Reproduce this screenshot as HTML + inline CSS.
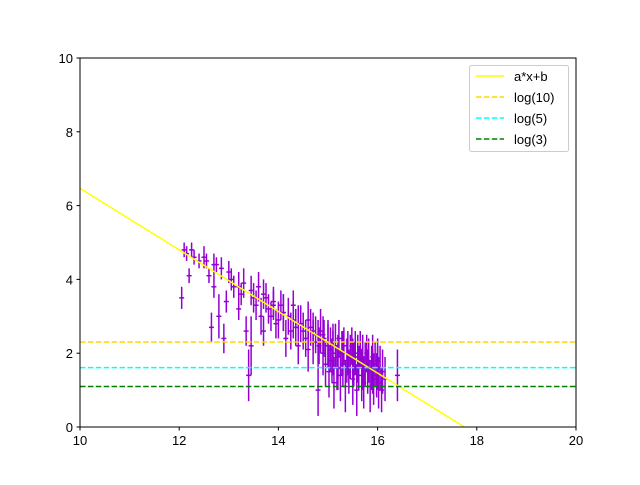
<!DOCTYPE html>
<html><head><meta charset="utf-8"><style>
body{margin:0;background:#fff}
svg text{font-family:"Liberation Sans",sans-serif;font-size:13px;fill:#000}
</style></head><body>
<svg id="chart" width="640" height="480" xmlns="http://www.w3.org/2000/svg">
<rect width="640" height="480" fill="#fff"/>
<g id="pts"></g>
<g id="lines"></g>
<rect x="80" y="58" width="496" height="369" fill="none" stroke="#000" stroke-width="1"/>
<g id="axes"></g>
<g>
<rect x="469.5" y="65.5" width="99" height="86" fill="#fff" fill-opacity="0.8" stroke="#ccc" rx="2"/>
<line x1="476" y1="76" x2="504" y2="76" stroke="#ffff00" stroke-width="1.5"/><text x="514" y="81">a*x+b</text>
<line x1="476" y1="97" x2="504" y2="97" stroke="#ffd700" stroke-width="1.5" stroke-dasharray="5.5,2.4"/><text x="514" y="102">log(10)</text>
<line x1="476" y1="118" x2="504" y2="118" stroke="#00ffff" stroke-width="1.5" stroke-dasharray="5.5,2.4"/><text x="514" y="123">log(5)</text>
<line x1="476" y1="139" x2="504" y2="139" stroke="#008000" stroke-width="1.5" stroke-dasharray="5.5,2.4"/><text x="514" y="144">log(3)</text>
</g>
</svg>
<script>
const xTicks=[10,12,14,16,18,20];
const yTicks=[0,2,4,6,8,10];
const slopeA=-0.835, interceptB=14.82;
const hLevels=[2.303,1.609,1.099];
const hColors=['#ffd700','#00ffff','#008000'];
// observations: x, y, yerr
const obsX=[12.05,12.1,12.15,12.2,12.25,12.3,12.4,12.5,12.55,12.6,12.65,12.7,12.75,12.8,12.85,12.9,12.95,13.0,13.05,13.1,13.2,13.25,13.3,13.35,13.4,13.45,13.45,13.5,13.55,13.6,13.65,13.7,13.75,13.8,13.85,13.9,13.95,14.0,14.05,14.1,14.15,14.2,14.25,14.3,14.35,14.4,14.45,14.5,14.55,14.6,14.65,14.7,14.75,14.8,14.82,14.85,14.9,14.92,14.95,15.0,15.02,15.05,15.08,15.1,15.12,15.15,15.18,15.2,15.22,15.25,15.28,15.3,15.32,15.35,15.38,15.4,15.42,15.45,15.48,15.5,15.52,15.55,15.58,15.6,15.62,15.65,15.68,15.7,15.72,15.75,15.78,15.8,15.82,15.85,15.88,15.9,15.92,15.95,15.98,16.0,16.02,16.05,16.08,16.1,16.15,16.4,14.3,14.6,14.9,15.1,15.3,15.5,15.7,15.9,13.7,13.9,14.1,14.4,14.7,15.0,15.6,16.0,15.2,14.8,13.2,12.7];
const obsY=[3.5,4.8,4.7,4.1,4.8,4.6,4.5,4.6,4.5,4.1,2.7,3.8,4.4,3.0,4.3,2.4,3.4,4.2,4.0,3.8,3.2,3.6,3.9,2.6,1.4,3.7,2.2,3.5,3.3,3.8,3.0,2.6,3.5,3.2,3.0,3.3,2.8,2.9,3.3,3.1,2.4,3.0,2.6,2.9,2.7,2.2,2.8,2.6,2.4,2.1,2.7,2.3,2.5,1.0,2.2,2.6,2.0,2.4,1.7,2.3,1.5,2.1,1.8,2.0,1.2,2.2,1.6,1.9,2.4,1.4,2.0,1.7,2.2,1.1,1.8,2.0,1.5,1.9,2.2,1.3,1.7,2.0,1.0,1.8,1.6,2.1,1.4,1.9,1.2,1.7,2.0,1.5,1.8,1.1,1.6,1.9,1.3,1.7,1.4,1.8,1.2,1.6,1.0,1.5,1.3,1.4,3.3,2.9,2.5,2.3,2.0,1.8,1.6,1.5,3.6,3.4,3.1,2.8,2.6,2.2,1.9,1.6,1.6,2.3,3.8,4.4];
const obsErr=[0.3,0.2,0.2,0.2,0.2,0.2,0.2,0.3,0.2,0.2,0.4,0.3,0.2,0.6,0.3,0.4,0.3,0.3,0.3,0.3,0.3,0.3,0.4,0.4,0.7,0.4,0.8,0.4,0.4,0.4,0.5,0.4,0.4,0.4,0.4,0.4,0.4,0.5,0.4,0.5,0.5,0.5,0.5,0.5,0.5,0.5,0.5,0.5,0.5,0.6,0.5,0.6,0.5,0.7,0.5,0.6,0.6,0.5,0.6,0.6,0.7,0.6,0.6,0.6,0.7,0.6,0.6,0.6,0.5,0.7,0.6,0.6,0.5,0.7,0.6,0.6,0.6,0.6,0.5,0.7,0.6,0.6,0.7,0.6,0.6,0.5,0.7,0.6,0.7,0.6,0.5,0.6,0.6,0.7,0.6,0.6,0.7,0.6,0.6,0.6,0.7,0.6,0.6,0.6,0.6,0.7,0.4,0.5,0.5,0.5,0.6,0.6,0.6,0.6,0.4,0.4,0.5,0.5,0.5,0.6,0.6,0.6,0.6,0.6,0.4,0.3];
const NS='http://www.w3.org/2000/svg';
const X0=80,X1=576,Y0=427,Y1=58;
const sx=v=>X0+(v-10)/10*(X1-X0);
const sy=v=>Y0-(v-0)/10*(Y0-Y1);
function mk(tag,attrs,parent){const e=document.createElementNS(NS,tag);for(const k in attrs)e.setAttribute(k,attrs[k]);parent.appendChild(e);return e;}
const pts=document.getElementById('pts');
for(let i=0;i<obsX.length;i++){
  const g=mk('g',{},pts);
  
  
  const x=obsX[i],y=obsY[i],e=obsErr[i];
  mk('line',{x1:sx(x),x2:sx(x),y1:sy(y-e),y2:sy(y+e),stroke:'#9400d3','stroke-width':1.5},g);
  mk('line',{x1:sx(x-0.05),x2:sx(x+0.05),y1:sy(y),y2:sy(y),stroke:'#9400d3','stroke-width':1.5},g);
}
const lines=document.getElementById('lines');
const xEnd=(0-interceptB)/slopeA;
const fit=mk('line',{x1:sx(10),y1:sy(slopeA*10+interceptB),x2:sx(Math.min(20,xEnd)),y2:sy(slopeA*Math.min(20,xEnd)+interceptB),stroke:'#ffff00','stroke-width':1.5},lines);


hLevels.forEach((v,i)=>{
  const l=mk('line',{x1:sx(10),x2:sx(20),y1:sy(v),y2:sy(v),stroke:hColors[i],'stroke-width':1.5,'stroke-dasharray':'5.5,2.4'},lines);
  
  
});
const axes=document.getElementById('axes');
xTicks.forEach(t=>{
  mk('line',{x1:sx(t),x2:sx(t),y1:Y0,y2:Y0+3.5,stroke:'#000'},axes);
  const tx=mk('text',{x:sx(t),y:Y0+18,'text-anchor':'middle'},axes);tx.textContent=t;
  
  
});
yTicks.forEach(t=>{
  mk('line',{x1:X0-3.5,x2:X0,y1:sy(t),y2:sy(t),stroke:'#000'},axes);
  const tx=mk('text',{x:X0-7,y:sy(t)+5,'text-anchor':'end'},axes);tx.textContent=t;
  
  
});
</script>
</body></html>
